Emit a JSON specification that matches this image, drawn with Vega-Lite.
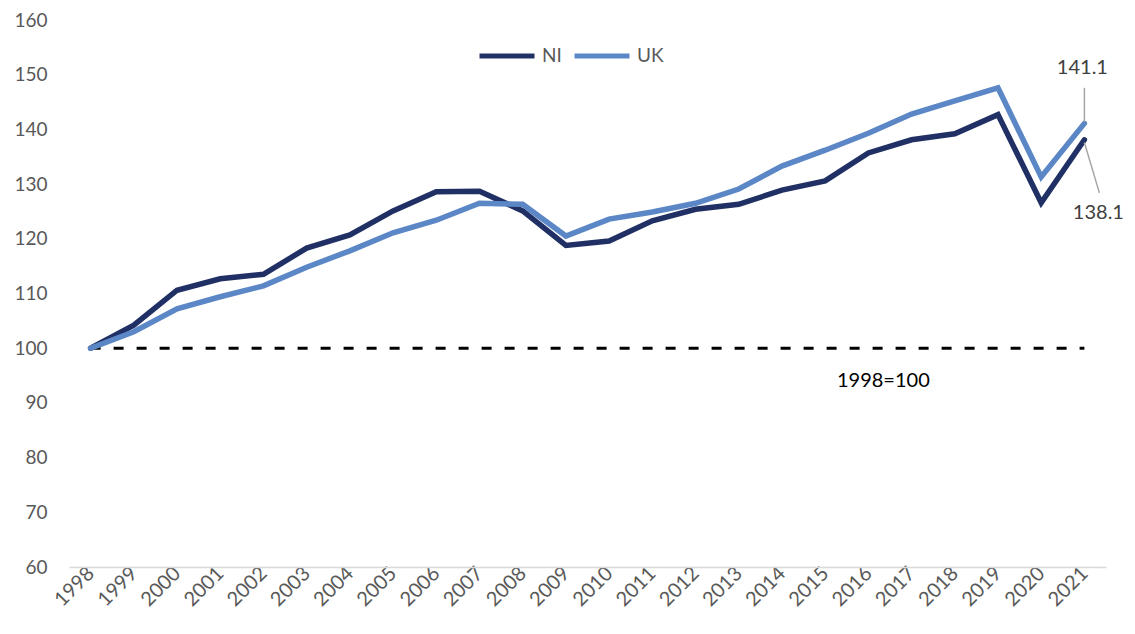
{
  "$schema": "https://vega.github.io/schema/vega-lite/v6.json",
  "width": 1037,
  "height": 547,
  "autosize": {"type": "none"},
  "padding": {"left": 69, "top": 20, "right": 29, "bottom": 67},
  "background": "white",
  "config": {
    "view": {"stroke": null},
    "font": "Lato",
    "axis": {"labelFont": "Lato", "labelColor": "#595959", "labelFontSize": 19, "grid": false, "ticks": false, "title": null}
  },
  "datasets": {
    "series": [
      {"year": "1998", "series": "NI", "value": 100},
      {"year": "1999", "series": "NI", "value": 104.2},
      {"year": "2000", "series": "NI", "value": 110.6},
      {"year": "2001", "series": "NI", "value": 112.7},
      {"year": "2002", "series": "NI", "value": 113.5},
      {"year": "2003", "series": "NI", "value": 118.3},
      {"year": "2004", "series": "NI", "value": 120.7},
      {"year": "2005", "series": "NI", "value": 125.1},
      {"year": "2006", "series": "NI", "value": 128.6},
      {"year": "2007", "series": "NI", "value": 128.7},
      {"year": "2008", "series": "NI", "value": 125.1},
      {"year": "2009", "series": "NI", "value": 118.8},
      {"year": "2010", "series": "NI", "value": 119.6},
      {"year": "2011", "series": "NI", "value": 123.3},
      {"year": "2012", "series": "NI", "value": 125.4},
      {"year": "2013", "series": "NI", "value": 126.3},
      {"year": "2014", "series": "NI", "value": 128.9},
      {"year": "2015", "series": "NI", "value": 130.6},
      {"year": "2016", "series": "NI", "value": 135.7},
      {"year": "2017", "series": "NI", "value": 138.1},
      {"year": "2018", "series": "NI", "value": 139.2},
      {"year": "2019", "series": "NI", "value": 142.7},
      {"year": "2020", "series": "NI", "value": 126.6},
      {"year": "2021", "series": "NI", "value": 138.1},
      {"year": "1998", "series": "UK", "value": 100},
      {"year": "1999", "series": "UK", "value": 103.0},
      {"year": "2000", "series": "UK", "value": 107.2},
      {"year": "2001", "series": "UK", "value": 109.4},
      {"year": "2002", "series": "UK", "value": 111.4},
      {"year": "2003", "series": "UK", "value": 114.8},
      {"year": "2004", "series": "UK", "value": 117.8},
      {"year": "2005", "series": "UK", "value": 121.1},
      {"year": "2006", "series": "UK", "value": 123.4},
      {"year": "2007", "series": "UK", "value": 126.5},
      {"year": "2008", "series": "UK", "value": 126.3},
      {"year": "2009", "series": "UK", "value": 120.5},
      {"year": "2010", "series": "UK", "value": 123.6},
      {"year": "2011", "series": "UK", "value": 124.9},
      {"year": "2012", "series": "UK", "value": 126.5},
      {"year": "2013", "series": "UK", "value": 129.1},
      {"year": "2014", "series": "UK", "value": 133.3},
      {"year": "2015", "series": "UK", "value": 136.2},
      {"year": "2016", "series": "UK", "value": 139.3},
      {"year": "2017", "series": "UK", "value": 142.8},
      {"year": "2018", "series": "UK", "value": 145.2},
      {"year": "2019", "series": "UK", "value": 147.6},
      {"year": "2020", "series": "UK", "value": 131.3},
      {"year": "2021", "series": "UK", "value": 141.1}
    ]
  },
  "layer": [
    {
      "data": {"values": [{"x1": "1998", "x2": "2021", "y": 100}]},
      "mark": {"type": "rule", "color": "black", "strokeWidth": 3, "strokeDash": [10, 13]},
      "encoding": {
        "x": {"field": "x1", "type": "ordinal"},
        "x2": {"field": "x2"},
        "y": {"field": "y", "type": "quantitative"}
      }
    },
    {
      "data": {"name": "series"},
      "mark": {"type": "line", "strokeWidth": 5.5, "strokeCap": "round"},
      "encoding": {
        "x": {
          "field": "year", "type": "ordinal",
          "scale": {"type": "point", "padding": 0.5},
          "axis": {"labelAngle": -45, "labelFontSize": 20, "labelPadding": 3, "domainColor": "#d9d9d9", "domainWidth": 1.5}
        },
        "y": {
          "field": "value", "type": "quantitative",
          "scale": {"domain": [60, 160], "nice": false, "zero": false},
          "axis": {"values": [60, 70, 80, 90, 100, 110, 120, 130, 140, 150, 160], "domain": false, "labelPadding": 22}
        },
        "color": {
          "field": "series", "type": "nominal",
          "scale": {"domain": ["NI", "UK"], "range": ["#203064", "#5B87C6"]},
          "legend": {
            "title": null, "orient": "none", "direction": "horizontal",
            "legendX": 408, "legendY": 6,
            "symbolType": "stroke", "symbolSize": 3025, "symbolStrokeWidth": 5,
            "labelFontSize": 19, "labelColor": "#595959", "labelFont": "Lato",
            "labelOffset": 5, "columnPadding": 2
          }
        }
      }
    },
    {
      "data": {"values": [{"year": "2016", "value": 94.0, "label": "1998=100"}]},
      "mark": {"type": "text", "fontSize": 20, "color": "black", "dx": 15, "baseline": "middle", "align": "center"},
      "encoding": {
        "x": {"field": "year", "type": "ordinal"},
        "y": {"field": "value", "type": "quantitative"},
        "text": {"field": "label"}
      }
    },
    {
      "data": {"values": [{"year": "2021", "y1": 147.6, "y2": 141.4}]},
      "mark": {"type": "rule", "color": "#a6a6a6", "strokeWidth": 1.5},
      "encoding": {
        "x": {"field": "year", "type": "ordinal"},
        "y": {"field": "y1", "type": "quantitative"},
        "y2": {"field": "y2"}
      }
    },
    {
      "data": {"values": [{"year": "2021", "y1": 137.6, "y2": 128.4}]},
      "mark": {"type": "rule", "color": "#a6a6a6", "strokeWidth": 1.5, "x2Offset": 15},
      "encoding": {
        "x": {"field": "year", "type": "ordinal"},
        "x2": {"field": "year"},
        "y": {"field": "y1", "type": "quantitative"},
        "y2": {"field": "y2"}
      }
    },
    {
      "data": {"values": [
        {"year": "2021", "value": 151.2, "label": "141.1", "dx": -2},
        {"year": "2021", "value": 124.7, "label": "138.1", "dx": 14}
      ]},
      "mark": {"type": "text", "fontSize": 20, "color": "#404040", "baseline": "middle", "align": "center"},
      "encoding": {
        "x": {"field": "year", "type": "ordinal"},
        "xOffset": {"field": "dx", "type": "quantitative", "scale": null},
        "y": {"field": "value", "type": "quantitative"},
        "text": {"field": "label"}
      }
    }
  ]
}
